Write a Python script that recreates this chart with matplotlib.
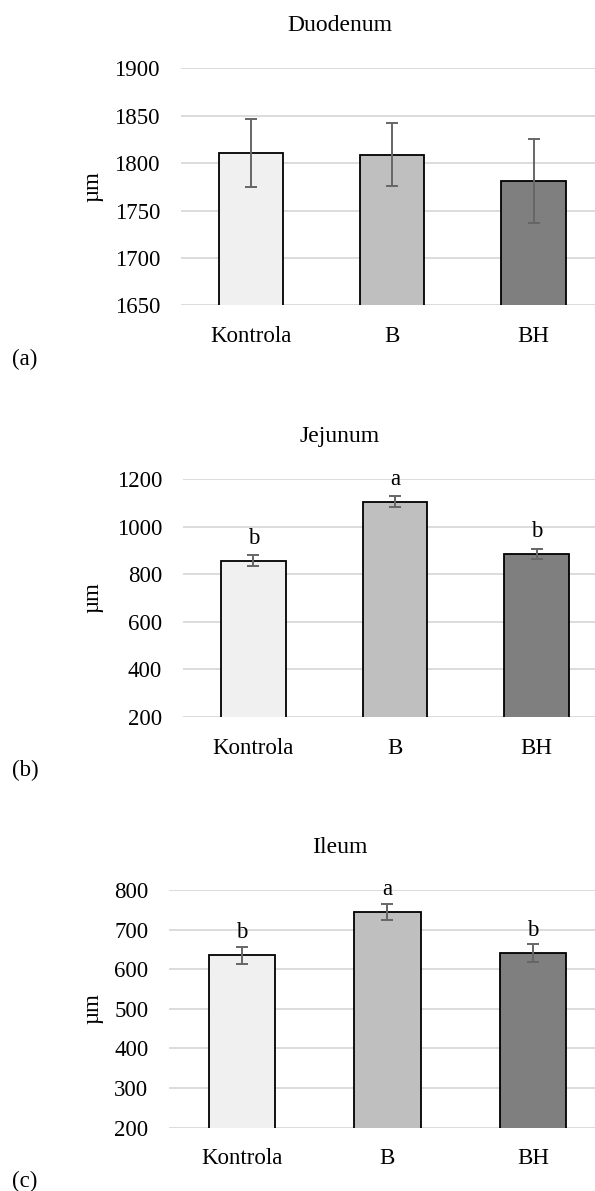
import matplotlib
matplotlib.use("Agg")
import matplotlib.pyplot as plt
from matplotlib.ticker import MultipleLocator

plt.rcParams['font.family'] = ['Liberation Serif', 'DejaVu Serif']
plt.rcParams['font.size'] = 16.5

# ---- data -------------------------------------------------------------
groups = ["Kontrola", "B", "BH"]
bar_colors = ["#F0F0F0", "#BFBFBF", "#7F7F7F"]

duodenum_mean = [1811, 1809, 1781]
duodenum_err = [36, 33, 44]

jejunum_mean = [856, 1105, 884]
jejunum_err = [24, 22, 21]
jejunum_letters = ["b", "a", "b"]

ileum_mean = [635, 744, 641]
ileum_err = [21, 20, 22]
ileum_letters = ["b", "a", "b"]

# ---- layout (pixels on a 595 x 1191 canvas) ---------------------------
W, H = 595, 1191
DPI = 100
fig = plt.figure(figsize=(W / DPI, H / DPI), dpi=DPI)


def px_axes(left, width, top, bottom):
    return fig.add_axes([left / W, 1 - bottom / H, width / W, (bottom - top) / H])


panels = [
    dict(name="Duodenum", tag="(a)", mean=duodenum_mean, err=duodenum_err,
         letters=None, box=(180.5, 423.6, 68.3, 305.3), ylim=(1650, 1900), step=50),
    dict(name="Jejunum", tag="(b)", mean=jejunum_mean, err=jejunum_err,
         letters=jejunum_letters, box=(182.6, 424.8, 479.0, 716.7), ylim=(200, 1200), step=200),
    dict(name="Ileum", tag="(c)", mean=ileum_mean, err=ileum_err,
         letters=ileum_letters, box=(168.9, 437.0, 890.0, 1127.5), ylim=(200, 800), step=100),
]

for p in panels:
    left, width, top, bottom = p["box"]
    ax = px_axes(left, width, top, bottom)
    x = list(range(len(groups)))

    ax.bar(x, p["mean"], width=0.455, color=bar_colors, edgecolor="black",
           linewidth=1.3, zorder=2)
    ax.errorbar(x, p["mean"], yerr=p["err"], fmt="none", ecolor="#666666",
                elinewidth=1.4, capsize=4.2, capthick=1.4, zorder=3)

    if p["letters"]:
        for xi, m, lab in zip(x, p["mean"], p["letters"]):
            ax.annotate(lab, xy=(xi, m), xytext=(0, 12.2), textcoords="offset points",
                        ha="center", va="baseline", annotation_clip=False)

    ax.set_xlim(-0.5, len(groups) - 0.5)
    ax.set_ylim(*p["ylim"])
    ax.yaxis.set_major_locator(MultipleLocator(p["step"]))
    ax.set_xticks(x)
    ax.set_xticklabels(groups)
    ax.tick_params(axis="y", length=0, pad=14.8)
    ax.tick_params(axis="x", length=0, pad=15)

    ax.yaxis.grid(True, color="#D9D9D9", linewidth=1.3)
    ax.set_axisbelow(True)
    for s in ax.spines.values():
        s.set_visible(False)

    ax.set_ylabel("µm")
    ax.yaxis.set_label_coords(103.5 / W, 1 - (top + bottom) / 2 / H,
                              transform=fig.transFigure)

    fig.text(340 / W, 1 - (top - 37) / H, p["name"], ha="center", va="baseline",
             fontsize=17)
    fig.text(11.7 / W, 1 - (bottom + 54) / H, p["tag"], ha="left", va="center")

fig.savefig("out.png", dpi=DPI)
